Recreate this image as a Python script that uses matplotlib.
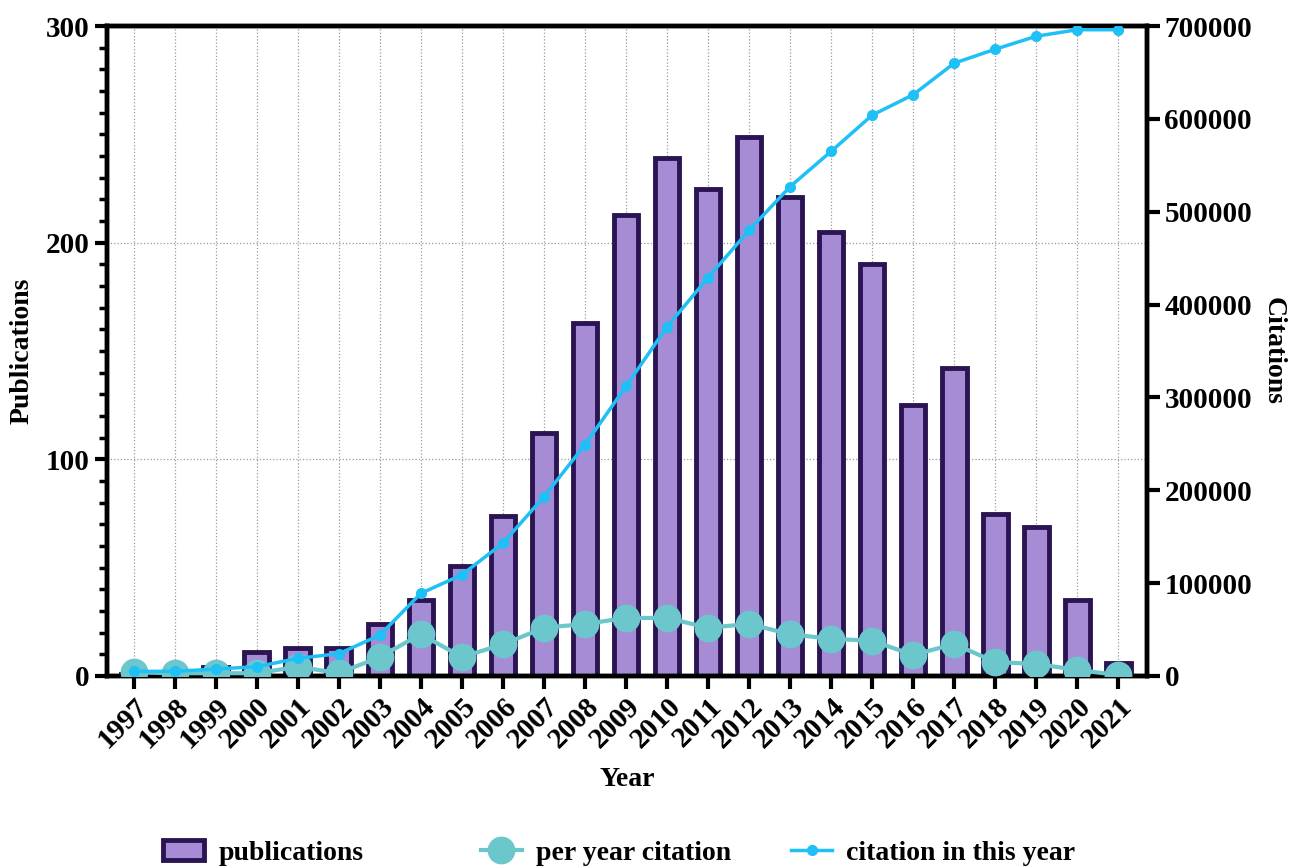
import matplotlib
matplotlib.use("Agg")
import matplotlib.pyplot as plt
import numpy as np
from matplotlib.ticker import MultipleLocator

plt.rcParams['font.family'] = ['Liberation Serif', 'DejaVu Serif']
plt.rcParams['font.weight'] = 'bold'

years = list(range(1997, 2022))
publications = [1, 1, 4, 11, 13, 13, 24, 35, 51, 74, 112, 163, 213, 239, 225,
                249, 221, 205, 190, 125, 142, 75, 69, 35, 6]
per_year_citation = [4000, 3000, 3000, 3000, 10000, 3000, 20500, 45000, 20500, 34000,
                     52000, 56000, 62500, 62500, 52000, 56000, 45000, 40000, 38000,
                     22600, 34500, 15000, 13000, 6500, 1000]
citation_this_year = [5000, 5000, 7500, 10000, 19000, 24000, 44000, 89000, 109000, 143000,
                      193000, 249000, 312000, 376000, 429000, 480000, 527000, 565000,
                      604000, 626000, 660000, 675000, 689000, 696000, 696000]

bar_face = '#a68bd5'
bar_edge = '#2b1452'
per_col = '#6cc7cd'
cit_col = '#1fc0f5'
fs = 21

fig = plt.figure(figsize=(12.92, 8.67), dpi=100)
ax = fig.add_axes([0.0828, 0.2203, 0.805, 0.7497])
x = np.arange(len(years))

bars = ax.bar(x, publications, width=0.6, color=bar_face, edgecolor=bar_edge,
              linewidth=3.5, label='publications', zorder=2)
ax.set_xlim(-0.65, 24.7)
ax.set_ylim(0, 300)
ax.yaxis.set_major_locator(MultipleLocator(100))
ax.yaxis.set_minor_locator(MultipleLocator(10))
ax.set_xticks(x)
ax.set_xticklabels([str(y) for y in years], rotation=45, ha='right',
                   rotation_mode='anchor', fontsize=fs, fontweight='bold')
ax.grid(True, axis='both', which='major', linestyle=':', color='#9a9a9a', linewidth=0.9, zorder=0)
ax.set_axisbelow(True)

ax2 = ax.twinx()
l_per, = ax2.plot(x, per_year_citation, color=per_col, marker='o', markersize=19,
                  linewidth=3, label='per year citation', zorder=3)
l_cit, = ax2.plot(x, citation_this_year, color=cit_col, marker='o', markersize=7,
                  linewidth=2.5, label='citation in this year', zorder=4)
ax2.set_ylim(0, 700000)
ax2.yaxis.set_major_locator(MultipleLocator(100000))

for a in (ax, ax2):
    for s in a.spines.values():
        s.set_linewidth(3.2)
    a.tick_params(which='major', length=9, width=3, labelsize=fs)
    a.tick_params(which='minor', length=6, width=2.5)
    for lab in a.get_yticklabels():
        lab.set_fontweight('bold')
ax.tick_params(axis='x', pad=3)

ax.set_ylabel('Publications', fontsize=20, fontweight='bold', labelpad=8)
ax2.set_ylabel('Citations', fontsize=20, fontweight='bold', rotation=270, labelpad=24)
ax.set_xlabel('Year', fontsize=20, fontweight='bold', labelpad=10)

# three legend entries at fixed positions along the bottom
entries = [(bars, 'publications', 0.126), (l_per, 'per year citation', 0.372),
           (l_cit, 'citation in this year', 0.612)]
for h, lab, xpos in entries:
    leg = fig.legend([h], [lab], loc='center left', bbox_to_anchor=(xpos, 0.016),
                     frameon=False, borderaxespad=0, borderpad=0, handlelength=1.5,
                     handletextpad=0.5, prop={'weight': 'bold', 'size': 20})

fig.savefig('out.png', dpi=100)
